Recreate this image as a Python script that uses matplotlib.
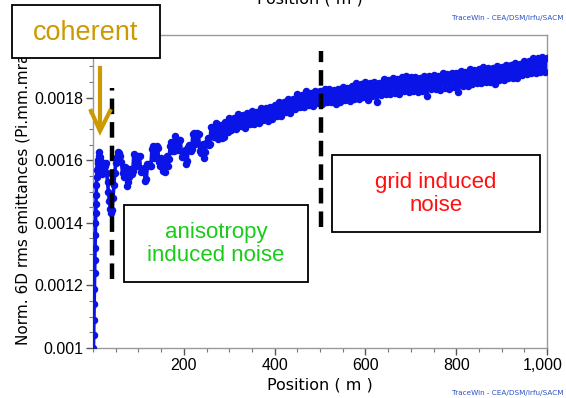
import matplotlib
matplotlib.use("Agg")
import matplotlib.pyplot as plt
import numpy as np
from matplotlib.ticker import MultipleLocator, FuncFormatter
from matplotlib.patches import Rectangle
from matplotlib.transforms import ScaledTranslation

# ---------------- data (emittance in units of 1e-6 Pi.mm.mrad) ----------------
x_early = [1, 1.5, 2, 2.5, 3, 3.5, 4, 4.5, 5, 5.5, 6, 6.5, 7, 7.5, 8, 9, 10, 11, 12, 13,
           14, 15, 16, 18, 20, 22, 24, 26, 28, 30, 32, 34, 36, 38, 40, 42, 44, 46, 48, 50,
           52, 54, 56, 58]
y_early_e6 = [1000, 1040, 1090, 1140, 1190, 1240, 1280, 1320, 1360, 1400, 1430, 1460, 1490, 1520,
              1545, 1570, 1590, 1575, 1600, 1615, 1625, 1610, 1600, 1580, 1555, 1570, 1590, 1580,
              1590, 1560, 1530, 1500, 1470, 1445, 1430, 1440, 1480, 1520, 1560, 1590, 1610, 1625,
              1600, 1622]

x_main = list(range(60, 1001, 5))
y_main_e6 = [
    1615, 1560, 1578, 1518, 1545, 1555, 1620, 1598, 1615, 1562,   # 60-105
    1572, 1535, 1588, 1580, 1637, 1607, 1645, 1595, 1607, 1565,   # 110-155
    1600, 1582, 1645, 1630, 1677, 1642, 1665, 1610, 1627, 1588,   # 160-205
    1643, 1630, 1685, 1652, 1687, 1630, 1650, 1608, 1658, 1650,   # 210-255
    1707, 1682, 1720, 1668, 1703, 1670, 1722, 1692, 1735, 1695,   # 260-305
    1734, 1701, 1748, 1710, 1745, 1704, 1751, 1715, 1757, 1717,   # 310-355
    1754, 1719, 1768, 1730, 1767, 1724, 1769, 1733, 1777, 1740,   # 360-405
    1786, 1742, 1787, 1755, 1795, 1751, 1797, 1762, 1810, 1769,   # 410-455
    1809, 1769, 1821, 1775, 1815, 1773, 1821, 1782, 1820, 1779,   # 460-505
    1827, 1785, 1826, 1785, 1824, 1779, 1828, 1787, 1835, 1793,   # 510-555
    1832, 1788, 1836, 1795, 1846, 1795, 1843, 1802, 1850, 1793,   # 560-605
    1846, 1805, 1851, 1787, 1848, 1807, 1858, 1813, 1857, 1811,   # 610-655
    1864, 1815, 1858, 1812, 1866, 1821, 1870, 1819, 1867, 1822,   # 660-705
    1865, 1818, 1864, 1822, 1870, 1805, 1868, 1826, 1872, 1826,   # 710-755
    1869, 1825, 1879, 1832, 1875, 1829, 1880, 1834, 1877, 1818,   # 760-805
    1884, 1838, 1881, 1837, 1891, 1844, 1887, 1848, 1892, 1846,   # 810-855
    1897, 1850, 1896, 1850, 1895, 1844, 1900, 1856, 1899, 1856,   # 860-905
    1904, 1862, 1903, 1862, 1909, 1864, 1908, 1872, 1917, 1874,   # 910-955
    1918, 1879, 1926, 1879, 1925, 1883, 1930, 1883, 1926,         # 960-1000
]

# extra samples between the 5 m grid in the oscillating region (62.5 ... 297.5 m)
x_mid = [62.5 + 5 * i for i in range(48)]
y_mid_e6 = [
    1595, 1545, 1575, 1530, 1572, 1565, 1615, 1580, 1612, 1565,
    1576, 1540, 1587, 1583, 1645, 1615, 1640, 1582, 1598, 1563,
    1612, 1604, 1657, 1630, 1666, 1633, 1665, 1610, 1632, 1596,
    1647, 1637, 1688, 1660, 1683, 1624, 1652, 1627, 1672, 1653,
    1702, 1675, 1717, 1676, 1713, 1675, 1720, 1690,
]

x_ticks = [200, 400, 600, 800, 1000]
y_ticks = [0.001, 0.0012, 0.0014, 0.0016, 0.0018]
y_tick_labels = ["0.001", "0.0012", "0.0014", "0.0016", "0.0018"]

# annotation positions (data coords)
dash1_x, dash1_y = 41, (0.00122, 0.00183)
dash2_x, dash2_y = 503, (0.001385, 0.00195)

x_all = np.array(x_early + x_main + x_mid, dtype=float)
y_all = np.array(y_early_e6 + y_main_e6 + y_mid_e6, dtype=float) * 1e-6
order = np.argsort(x_all, kind="stable")
x_all, y_all = x_all[order], y_all[order]

W, H = 566, 398
fig = plt.figure(figsize=(W / 100, H / 100), dpi=100)
ax = fig.add_axes([93 / W, 1 - 348 / H, (547 - 93) / W, (348 - 35) / H])

ax.plot(x_all, y_all, color="#0a14e6", lw=2.6, marker="o", ms=5.4,
        markeredgewidth=0, zorder=3)

ax.set_xlim(0, 1000)
ax.set_ylim(0.001, 0.002)
ax.set_xticks(x_ticks)
ax.xaxis.set_major_formatter(FuncFormatter(lambda v, p: f"{int(v):,}"))
ax.xaxis.set_minor_locator(MultipleLocator(50))
ax.set_yticks(y_ticks)
ax.set_yticklabels(y_tick_labels)
ax.yaxis.set_minor_locator(MultipleLocator(0.00005))
ax.tick_params(axis="both", which="major", direction="out", length=5, width=1,
               color="#555555", labelsize=11.5, pad=2)
ax.tick_params(axis="both", which="minor", direction="out", length=3, width=0.8,
               color="#777777")
for lab in ax.get_xticklabels() + ax.get_yticklabels():
    lab.set_family("Liberation Sans")
xl = ax.get_xticklabels()
xl[-1].set_transform(xl[-1].get_transform() + ScaledTranslation(-4 / 100, 0, fig.dpi_scale_trans))
for s in ax.spines.values():
    s.set_color("#999999")
    s.set_linewidth(1)

ax.set_ylabel("Norm. 6D rms emittances (Pi.mm.mrad)", fontsize=11, labelpad=3)
fig.text(320 / W, 1 - 377 / H, "Position ( m )", ha="center", va="top", fontsize=11.5)
fig.text(310 / W, 1 - 7 / H, "Position ( m )", ha="center", va="bottom", fontsize=11.5)
fig.text(563 / W, 1 - 18 / H, "TraceWin - CEA/DSM/Irfu/SACM", ha="right", va="center",
         fontsize=5.2, color="#2a4fc4")
fig.text(563 / W, 1 - 396 / H, "TraceWin - CEA/DSM/Irfu/SACM", ha="right", va="bottom",
         fontsize=5.2, color="#2a4fc4")

# dashed black lines
ax.plot([dash1_x, dash1_x], dash1_y, color="black", lw=3.2, ls=(0, (3.5, 1.8)), zorder=4)
ax.plot([dash2_x, dash2_x], dash2_y, color="black", lw=3.2, ls=(0, (3.5, 1.8)), zorder=4)

# annotation boxes in figure pixels
def box(x0, y0, x1, y1):
    r = Rectangle((x0 / W, 1 - y1 / H), (x1 - x0) / W, (y1 - y0) / H,
                  transform=fig.transFigure, facecolor="white", edgecolor="black",
                  lw=1.3, zorder=10)
    fig.patches.append(r)

box(12, 5, 160, 58)
fig.text(86 / W, 1 - 33 / H, "coherent", ha="center", va="center", fontsize=19.5,
         color="#cc9900", family="Liberation Sans", zorder=11)

box(124, 205, 308, 282)
fig.text(216 / W, 1 - 244 / H, "anisotropy\ninduced noise", ha="center", va="center",
         fontsize=16, color="#19cc19", family="Liberation Sans", linespacing=1.15, zorder=11)

box(332, 155, 540, 232)
fig.text(436 / W, 1 - 194 / H, "grid induced\nnoise", ha="center", va="center",
         fontsize=16, color="#ff1010", family="Liberation Sans", linespacing=1.15, zorder=11)

# gold arrow (shaft + chevron head)
fig.lines.append(plt.Line2D([100 / W, 100 / W], [1 - 68 / H, 1 - 129 / H],
                            transform=fig.transFigure, color="#cc9900", lw=3, zorder=12))
fig.lines.append(plt.Line2D([91 / W, 100 / W, 110 / W], [1 - 111 / H, 1 - 131 / H, 1 - 111 / H],
                            transform=fig.transFigure, color="#cc9900", lw=3, zorder=12,
                            solid_joinstyle="miter"))

fig.savefig("out.png", dpi=100)
